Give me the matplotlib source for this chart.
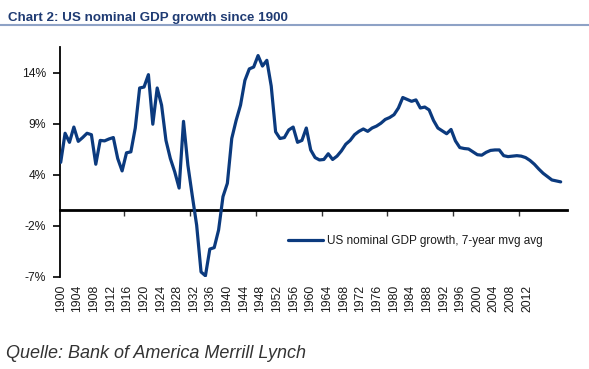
import matplotlib
matplotlib.use("Agg")
import matplotlib.pyplot as plt
from matplotlib.lines import Line2D

plt.rcParams['font.family'] = ['Liberation Sans', 'DejaVu Sans']

# ---------------- data ----------------
years = list(range(1900, 2015))
gdp_growth_7yr = [
    5.0, 8.05, 7.1, 8.7, 7.2, 7.6, 8.05, 7.9, 4.8, 7.3,        # 1900-1909
    7.25, 7.45, 7.6, 5.4, 4.1, 6.0, 6.1, 8.6, 12.8, 12.9,      # 1910-1919
    14.2, 9.0, 12.8, 11.0, 7.3, 5.4, 4.0, 2.3, 9.3, 4.7,       # 1920-1929
    1.5, -1.6, -6.5, -6.9, -4.1, -3.95, -2.1, 1.4, 2.8, 7.5,   # 1930-1939
    9.4, 11.0, 13.6, 14.8, 15.0, 16.2, 15.1, 15.7, 13.0, 8.2,  # 1940-1949
    7.5, 7.6, 8.4, 8.7, 7.1, 7.3, 8.6, 6.3, 5.5, 5.25,         # 1950-1959
    5.3, 5.9, 5.3, 5.65, 6.2, 6.9, 7.3, 7.9, 8.25, 8.5,        # 1960-1969
    8.25, 8.6, 8.8, 9.1, 9.5, 9.7, 10.0, 10.7, 11.8, 11.6,     # 1970-1979
    11.4, 11.55, 10.7, 10.8, 10.5, 9.4, 8.6, 8.3, 8.0, 8.45,   # 1980-1989
    7.25, 6.55, 6.45, 6.4, 6.1, 5.8, 5.75, 6.05, 6.25, 6.3,    # 1990-1999
    6.3, 5.7, 5.6, 5.65, 5.7, 5.65, 5.5, 5.2, 4.8, 4.3,        # 2000-2009
    3.85, 3.5, 3.15, 3.05, 2.95,                               # 2010-2014
]
series_label = "US nominal GDP growth, 7-year mvg avg"
title = "Chart 2: US nominal GDP growth since 1900"
source = "Quelle: Bank of America Merrill Lynch"

x_label_years = list(range(1900, 2013, 4))
y_tick_values = [-7, -1.65, 3.7, 9.05, 14.4]
y_tick_labels = ["-7%", "-2%", "4%", "9%", "14%"]

# ---------------- style ----------------
W, H = 589, 369
LINE = '#0b3a7e'
TXT = '#1a1a1a'

fig = plt.figure(figsize=(W / 100, H / 100), dpi=100)
ax = fig.add_axes([60 / W, 1 - 277 / H, 507 / W, 230 / H])

ax.plot(years, gdp_growth_7yr, color=LINE, lw=2.3, label=series_label,
        solid_joinstyle='round', solid_capstyle='round', zorder=3)

ax.set_xlim(1899.84, 2015.44)
ax.set_ylim(-7.03, 17.1)

for s in ('top', 'right'):
    ax.spines[s].set_visible(False)
ax.spines['bottom'].set_position(('data', 0))
ax.spines['bottom'].set_linewidth(2.0)
ax.spines['bottom'].set_color('black')
ax.spines['left'].set_linewidth(1.3)
ax.spines['left'].set_color('black')

# category-boundary tick marks on the zero line (every 15 categories)
ax.set_xticks([1914.5, 1929.5, 1944.5, 1959.5, 1974.5, 1989.5, 2004.5])
ax.tick_params(axis='x', direction='out', length=4, width=1.0, color='#333333',
               labelbottom=False)

ax.set_yticks(y_tick_values)
ax.set_yticklabels(y_tick_labels)
ax.tick_params(axis='y', direction='out', length=5, width=1.2, pad=5,
               labelsize=8.7, labelcolor=TXT)

# year labels as drawn in the reference (their own spacing)
k = 4.386 / 4.163
sec = ax.secondary_xaxis(0.0, functions=(lambda x: 1900 + (x - 1900) * k,
                                         lambda x: 1900 + (x - 1900) / k))
sec.set_xticks(x_label_years)
sec.set_xticklabels([str(y) for y in x_label_years], rotation=90)
sec.tick_params(length=0, pad=5.5, labelsize=8.7, labelcolor=TXT)
sec.spines['bottom'].set_visible(False)

ax.legend(loc='center left', bbox_to_anchor=((288 - 60) / 507, (277 - 241) / 230),
          frameon=False, handlelength=3.0, handletextpad=0.3, borderpad=0,
          borderaxespad=0, fontsize=8.5, labelcolor=TXT)

fig.text(8 / W, 1 - 20.7 / H, title, fontsize=9.6, fontweight='bold',
         color='#1f3b73', va='baseline', ha='left')
fig.add_artist(Line2D([0, 1], [1 - 25 / H] * 2, transform=fig.transFigure,
                      color='#8ea2c6', lw=1.5))
fig.text(6 / W, 1 - 358.5 / H, source, fontsize=13, style='italic',
         color='#333333', va='baseline', ha='left')

fig.savefig('out.png', dpi=100)
